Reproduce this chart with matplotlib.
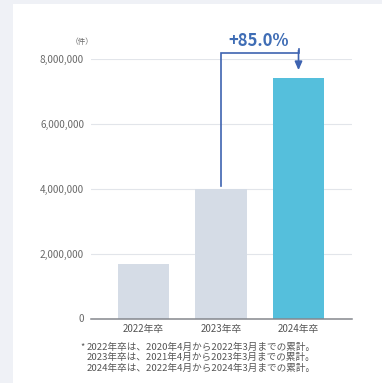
import matplotlib
matplotlib.use("Agg")
import matplotlib.pyplot as plt
from matplotlib.patches import Rectangle

plt.rcParams['font.family'] = ['Noto Sans CJK JP', 'DejaVu Sans']

categories = ["2022年卒", "2023年卒", "2024年卒"]
values = [1670000, 4000000, 7400000]
bar_colors = ["#d5dce6", "#d5dce6", "#55bfdc"]
yticks = [0, 2000000, 4000000, 6000000, 8000000]
ytick_labels = ["0", "2,000,000", "4,000,000", "6,000,000", "8,000,000"]
growth_label = "+85.0%"
unit_label = "（件）"
notes = [
    "2022年卒は、2020年4月から2022年3月までの累計。",
    "2023年卒は、2021年4月から2023年3月までの累計。",
    "2024年卒は、2022年4月から2024年3月までの累計。",
]

W, H = 382, 383
fig = plt.figure(figsize=(W / 100, H / 100), dpi=100)
fig.patch.set_facecolor("#eff1f6")
# white card
fig.patches.append(Rectangle((13 / W, 0), 1 - 13 / W, 1 - 4 / H,
                             transform=fig.transFigure, facecolor="white",
                             edgecolor="none", zorder=-5))

ax_left, ax_right = 91, 352
ax_top, ax_bottom = 59, 318.5
ax = fig.add_axes([ax_left / W, 1 - ax_bottom / H,
                   (ax_right - ax_left) / W, (ax_bottom - ax_top) / H])
ax.set_zorder(2)
ax.set_facecolor("none")

x = list(range(len(categories)))
ax.bar(x, values, width=0.66, color=bar_colors, zorder=2)
ax.set_xlim(-0.677, 2.69)
ax.set_ylim(0, 8000000)

ax.set_yticks(yticks)
ax.set_yticklabels(ytick_labels, fontsize=7.2, color="#6a6a6a")
ax.set_xticks(x)
ax.set_xticklabels(categories, fontsize=7, color="#555555")
ax.tick_params(axis="both", length=0)
ax.tick_params(axis="y", pad=5)
ax.tick_params(axis="x", pad=4)
ax.grid(axis="y", color="#e2e5ea", linewidth=0.8, zorder=1)
for s in ax.spines.values():
    s.set_visible(False)
ax.axhline(0, color="#85888e", linewidth=1.1, zorder=3, clip_on=False)

ax.text(-0.79, 8520000, unit_label, fontsize=5.5, color="#6a6a6a",
        ha="center", va="center")

# growth bracket from the 2023 bar to the 2024 bar
line_c = "#3e63b0"
top_y = 8180000
ax.plot([x[1], x[1], x[2], x[2]], [values[1] + 90000, top_y, top_y, values[2] + 900000],
        color=line_c, linewidth=1.2, clip_on=False, zorder=4,
        solid_joinstyle="miter")
ax.annotate("", xy=(x[2], values[2] + 170000), xytext=(x[2], values[2] + 950000),
            arrowprops=dict(arrowstyle="-|>,head_length=0.5,head_width=0.22",
                            color=line_c, lw=1.2),
            annotation_clip=False, zorder=4)
ax.text((x[1] + x[2]) / 2 - 0.02, 8540000, growth_label, fontsize=12, fontweight="bold",
        color="#3f6db5", ha="center", va="center")

# footnotes
fig.text(80 / W, 1 - 347 / H, "*", fontsize=6.5, color="#555555", ha="left", va="center")
for i, line in enumerate(notes):
    fig.text(87 / W, 1 - (347 + 10.7 * i) / H, line, fontsize=6.9,
             color="#555555", ha="left", va="center")

fig.savefig("out.png", dpi=100, facecolor=fig.get_facecolor())
